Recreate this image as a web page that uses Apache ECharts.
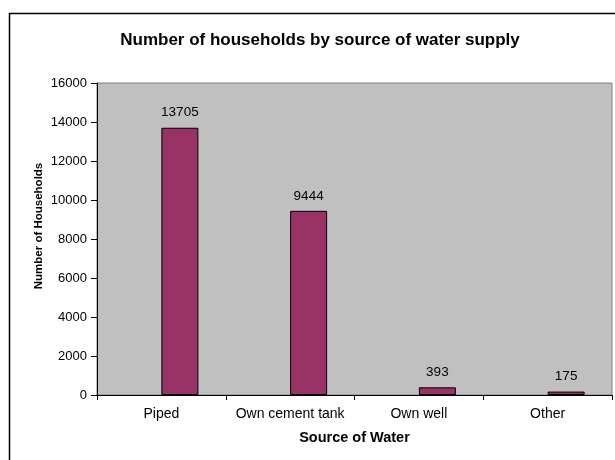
<!DOCTYPE html>
<html>
<head>
<meta charset="utf-8">
<script src="https://cdn.jsdelivr.net/npm/echarts@6/dist/echarts.min.js"></script>
<style>
  html, body { margin: 0; padding: 0; background: #fff; }
  #chart { width: 615px; height: 460px; }
</style>
</head>
<body>
<div id="chart"></div>
<script>
const categories = ['Piped', 'Own cement tank', 'Own well', 'Other']
const households = [13705, 9444, 393, 175]
// excel left an empty first series, so the bars sit right of the category centre
const emptySeries = [null, null, null, null]

const font = 'Liberation Sans, Arial, sans-serif'

let myChart = echarts.init(document.getElementById('chart'))

let option = {
  animation: false,
  backgroundColor: '#ffffff',
  title: {
    text: 'Number of households by source of water supply',
    left: 315,
    top: 27,
    textAlign: 'center',
    textStyle: { fontFamily: font, fontSize: 17, fontWeight: 'bold', color: '#000' }
  },
  graphic: [
    {
      type: 'rect',
      shape: { x: 9.5, y: 13.5, width: 640, height: 480 },
      style: { fill: 'none', stroke: '#000', lineWidth: 1.5 },
      silent: true
    },
    {
      type: 'text',
      x: 39,
      y: 226,
      rotation: Math.PI / 2,
      style: {
        text: 'Number of Households',
        fontFamily: font,
        fontSize: 11.5,
        fontWeight: 'bold',
        fill: '#000',
        align: 'center',
        verticalAlign: 'middle'
      }
    }
  ],
  grid: {
    left: 97,
    top: 83,
    right: 3,
    bottom: 65,
    show: true,
    backgroundColor: '#c0c0c0',
    borderColor: '#808080',
    borderWidth: 1
  },
  xAxis: {
    type: 'category',
    data: categories,
    name: 'Source of Water',
    nameLocation: 'middle',
    nameGap: 35,
    nameTextStyle: { fontFamily: font, fontSize: 14.5, fontWeight: 'bold', color: '#000', verticalAlign: 'top' },
    axisLine: { lineStyle: { color: '#000', width: 1 } },
    axisTick: { show: true, interval: 0, length: 5, lineStyle: { color: '#000' } },
    axisLabel: { interval: 0, fontFamily: font, fontSize: 14, color: '#000', margin: 12 }
  },
  yAxis: {
    type: 'value',
    min: 0,
    max: 16000,
    interval: 2000,
    splitLine: { show: false },
    axisLine: { show: true, lineStyle: { color: '#000', width: 1 } },
    axisTick: { show: true, length: 6, lineStyle: { color: '#000' } },
    axisLabel: {
      fontFamily: font,
      fontSize: 13,
      color: '#000',
      margin: 10,
      formatter: function (v) { return String(v) }
    }
  },
  series: [
    {
      type: 'bar',
      data: emptySeries,
      barWidth: 37,
      barGap: '0%'
    },
    {
      type: 'bar',
      data: households,
      barWidth: 37,
      barGap: '0%',
      itemStyle: { color: '#993366', borderColor: '#000', borderWidth: 1 },
      label: {
        show: true,
        position: 'top',
        distance: 8,
        fontFamily: font,
        fontSize: 13.5,
        color: '#000'
      }
    }
  ]
}

myChart.setOption(option)
</script>
</body>
</html>
